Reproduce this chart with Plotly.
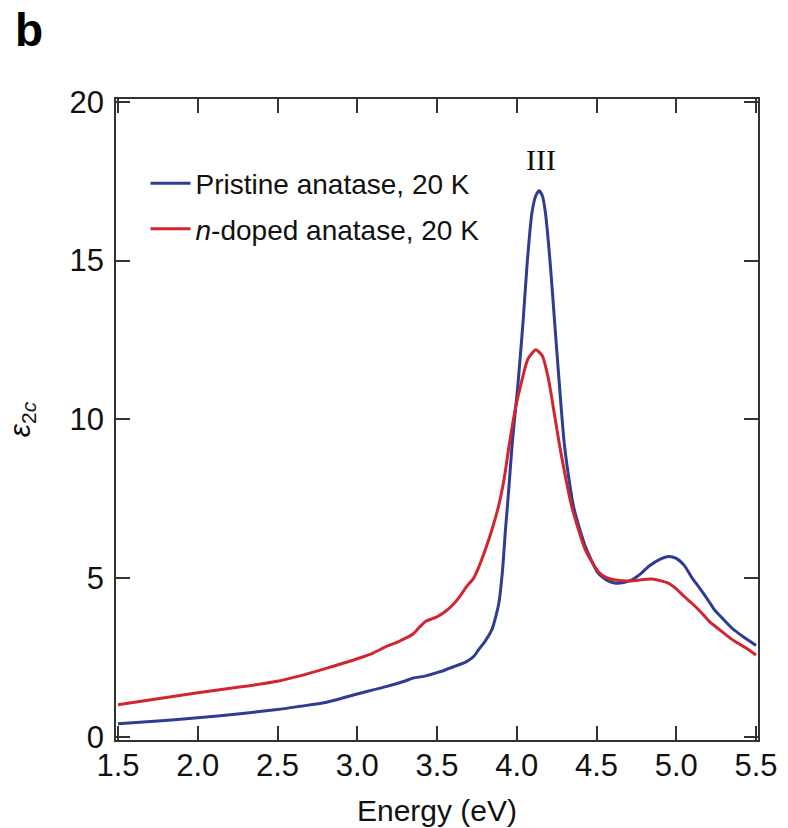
import plotly.graph_objects as go

# Energy (eV) and epsilon_2c values
pristine_x = [1.5, 1.75, 2.0, 2.25, 2.5, 2.64, 2.8, 3.0, 3.1, 3.18, 3.3, 3.35, 3.43, 3.5, 3.6,
              3.685, 3.73, 3.76, 3.8, 3.846, 3.8875, 3.91, 3.929, 3.95, 3.97, 3.99, 4.01, 4.04,
              4.065, 4.095, 4.12, 4.14, 4.16, 4.18, 4.21, 4.24, 4.265, 4.30, 4.356, 4.43, 4.51,
              4.57, 4.62, 4.67, 4.72, 4.78, 4.83, 4.9, 4.95, 5.0, 5.05, 5.1, 5.14, 5.2, 5.24,
              5.3, 5.35, 5.42, 5.5]
pristine_y = [0.41, 0.5, 0.6, 0.72, 0.86, 0.96, 1.08, 1.35, 1.48, 1.58, 1.76, 1.85, 1.92, 2.02, 2.2,
              2.37, 2.53, 2.74, 3.0, 3.4, 4.2, 5.2, 6.5, 7.8, 9.14, 10.2, 11.24, 13.1,
              14.9, 16.5, 17.05, 17.2, 17.05, 16.5, 14.9, 12.9, 11.24, 9.14, 7.25, 6.0, 5.16,
              4.92, 4.84, 4.86, 4.94, 5.15, 5.38, 5.6, 5.68, 5.62, 5.4, 5.0, 4.73, 4.3, 4.0,
              3.68, 3.42, 3.15, 2.88]

doped_x = [1.5, 1.75, 2.0, 2.25, 2.5, 2.64, 2.8, 3.0, 3.1, 3.18, 3.26, 3.3, 3.35, 3.39, 3.43,
           3.47, 3.5, 3.55, 3.6, 3.64, 3.685, 3.73, 3.76, 3.8, 3.84, 3.8875, 3.92, 3.95, 3.99,
           4.033, 4.07, 4.12, 4.16, 4.2, 4.235, 4.27, 4.345, 4.43, 4.51, 4.56, 4.617, 4.72,
           4.78, 4.846, 4.9, 4.95, 5.0, 5.05, 5.1, 5.16, 5.21, 5.26, 5.31, 5.37, 5.43, 5.5]
doped_y = [1.01, 1.2, 1.39, 1.56, 1.75, 1.92, 2.15, 2.46, 2.64, 2.84, 3.0, 3.1, 3.24, 3.45, 3.64,
           3.72, 3.78, 3.94, 4.16, 4.4, 4.73, 5.0, 5.32, 5.85, 6.45, 7.3, 8.1, 9.1, 10.3,
           11.24, 11.9, 12.19, 12.0, 11.24, 10.2, 9.14, 7.25, 5.89, 5.21, 5.02, 4.94, 4.91,
           4.95, 4.97, 4.92, 4.84, 4.66, 4.42, 4.2, 3.9, 3.62, 3.42, 3.22, 3.0, 2.82, 2.58]

x_ticks = [1.5, 2.0, 2.5, 3.0, 3.5, 4.0, 4.5, 5.0, 5.5]
x_tick_text = ["1.5", "2.0", "2.5", "3.0", "3.5", "4.0", "4.5", "5.0", "5.5"]
y_ticks = [0, 5, 10, 15, 20]

BLUE = "#2E3C92"
RED = "#D1262F"
FONT = "Liberation Sans, Arial, Helvetica, sans-serif"

fig = go.Figure()
fig.add_trace(go.Scatter(x=pristine_x, y=pristine_y, mode="lines", name="Pristine anatase, 20 K",
                         line=dict(color=BLUE, width=3, shape="spline", smoothing=0.6),
                         legendgroup="a"))
fig.add_trace(go.Scatter(x=doped_x, y=doped_y, mode="lines", name="<i>n</i>-doped anatase, 20 K",
                         line=dict(color=RED, width=3, shape="spline", smoothing=0.6),
                         legendgroup="b"))

axis_common = dict(showline=True, linecolor="#333333", linewidth=1.5, mirror="ticks",
                   ticks="inside", ticklen=14, tickwidth=1.5, tickcolor="#333333",
                   showgrid=False, zeroline=False, automargin=False,
                   tickfont=dict(family=FONT, size=31, color="#111111"))

fig.update_layout(
    width=788, height=828,
    margin=dict(l=116, r=30, t=99, b=88),
    paper_bgcolor="white", plot_bgcolor="white",
    font=dict(family=FONT, color="#111111"),
    xaxis=dict(range=[1.4875, 5.5125], tickvals=x_ticks, ticktext=x_tick_text,
               ticklabelstandoff=-3,
               title=dict(text="Energy (eV)", font=dict(family=FONT, size=30), standoff=18),
               **axis_common),
    yaxis=dict(range=[-0.1, 20.09], tickvals=y_ticks, ticklabelstandoff=4,
               title=dict(text="<i>ε</i><sub>2<i>c</i></sub>", font=dict(family=FONT, size=30),
                          standoff=30),
               **axis_common),
    legend=dict(x=0.046, y=0.907, xanchor="left", yanchor="top",
                font=dict(family=FONT, size=28), bgcolor="rgba(0,0,0,0)",
                traceorder="grouped", tracegroupgap=6, itemwidth=40),
    showlegend=True,
)

fig.add_annotation(text="III", x=4.15, y=18.17, xref="x", yref="y", showarrow=False,
                   font=dict(family="Liberation Serif, Times New Roman, serif", size=30, color="#111111"))
fig.add_annotation(text="<b>b</b>", xref="paper", yref="paper", x=-0.16, y=1.152,
                   xanchor="left", yanchor="top", showarrow=False,
                   font=dict(family=FONT, size=46, color="#000000"))

fig.write_html("out.html", post_script="document.body.style.margin='0';",
               config={"displayModeBar": False})
